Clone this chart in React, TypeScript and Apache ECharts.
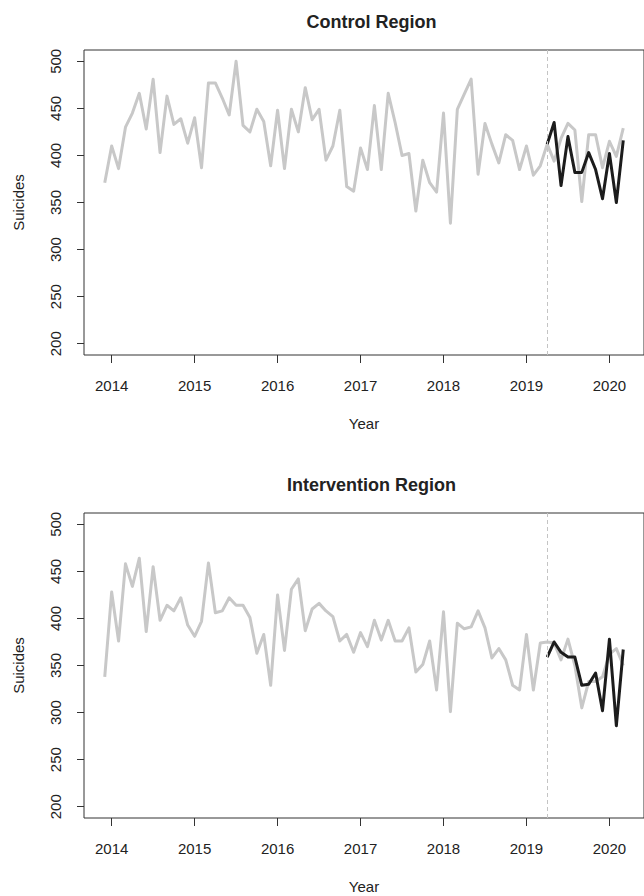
import React, { useEffect, useRef } from "react";
import * as echarts from "echarts";

// Monthly counts, first observation December 2013.
const FIRST_MONTH = 2013 + 11 / 12;
// Index of April 2019, the first post-intervention month.
const POST_START_INDEX = 64;

const yearTicks = [2014, 2015, 2016, 2017, 2018, 2019, 2020];
const suicideTicks = [200, 250, 300, 350, 400, 450, 500];

const panelTitles = ["Control Region", "Intervention Region"];

// Full monthly series (grey)
const controlAll = [
  371, 410, 386, 430, 445, 466, 428, 481, 403, 463, 433, 439, 413, 440, 387, 477,
  477, 461, 443, 500, 432, 425, 449, 436, 389, 448, 386, 449, 425, 472, 438, 449,
  395, 410, 448, 367, 362, 408, 385, 453, 385, 466, 435, 400, 402, 341, 395, 371,
  361, 445, 328, 449, 465, 481, 380, 434, 412, 392, 422, 416, 385, 410, 379, 389,
  412, 394, 418, 434, 427, 351, 422, 422, 387, 415, 399, 429,
];

// Post-intervention observed months (black)
const controlPost = [412, 435, 368, 420, 382, 382, 403, 385, 354, 402, 350, 416];

const interventionAll = [
  338, 428, 376, 458, 434, 464, 386, 455, 398, 414, 408, 422, 393, 381, 397, 459,
  406, 408, 422, 414, 414, 401, 363, 383, 329, 425, 366, 431, 442, 387, 410, 416,
  408, 402, 376, 383, 364, 385, 370, 398, 377, 398, 376, 376, 390, 343, 351, 376,
  324, 407, 301, 395, 389, 391, 408, 390, 358, 368, 356, 329, 324, 383, 324, 374,
  375, 374, 356, 378, 350, 305, 333, 333, 338, 362, 368, 350,
];

const interventionPost = [359, 375, 364, 359, 359, 329, 330, 342, 302, 378, 286, 367];

const FONT = "'Liberation Sans', Arial, Helvetica, sans-serif";
const INK = "#222222";
const GREY_LINE = "#c8c8c8";
const BLACK_LINE = "#1c1c1c";

const toPairs = (values: number[], offset: number) =>
  values.map((v, i) => [FIRST_MONTH + (offset + i) / 12, v]);

const interventionStart = FIRST_MONTH + POST_START_INDEX / 12;

const grids = [
  { left: 84, top: 50, width: 565, height: 305 },
  { left: 84, top: 513, width: 565, height: 305 },
];

function buildOption(): echarts.EChartsOption {
  const panels = [
    { all: controlAll, post: controlPost },
    { all: interventionAll, post: interventionPost },
  ];

  return {
    animation: false,
    backgroundColor: "#ffffff",
    title: panelTitles.map((text, k) => ({
      text,
      left: grids[k].left + grids[k].width / 2,
      top: grids[k].top - 42,
      textAlign: "center",
      textStyle: { fontSize: 18, fontWeight: "bold", color: INK, fontFamily: FONT },
    })),
    grid: grids.map((g) => ({
      ...g,
      show: true,
      borderColor: "#333333",
      borderWidth: 1,
      backgroundColor: "transparent",
    })),
    xAxis: grids.map((_, k) => ({
      type: "value",
      gridIndex: k,
      min: 2013 + 8 / 12,
      max: 2020 + 5 / 12,
      name: "Year",
      nameLocation: "middle",
      nameGap: 61,
      nameTextStyle: { fontSize: 15, color: INK, fontFamily: FONT },
      axisLine: { show: false },
      axisTick: {
        show: true,
        length: 8,
        customValues: yearTicks,
        lineStyle: { color: "#333333", width: 1 },
      },
      axisLabel: {
        show: true,
        customValues: yearTicks,
        margin: 23,
        fontSize: 15,
        color: INK,
        fontFamily: FONT,
        formatter: (v: number) => String(Math.round(v)),
      },
      splitLine: { show: false },
    })),
    yAxis: grids.map((_, k) => ({
      type: "value",
      gridIndex: k,
      min: 188,
      max: 512,
      name: "Suicides",
      nameLocation: "middle",
      nameRotate: 90,
      nameGap: 58,
      nameTextStyle: { fontSize: 15, color: INK, fontFamily: FONT },
      axisLine: { show: false },
      axisTick: {
        show: true,
        length: 7,
        customValues: suicideTicks,
        lineStyle: { color: "#333333", width: 1 },
      },
      axisLabel: {
        show: true,
        customValues: suicideTicks,
        rotate: 90,
        margin: 21,
        fontSize: 15,
        color: INK,
        fontFamily: FONT,
        formatter: (v: number) => String(Math.round(v)),
      },
      splitLine: { show: false },
    })),
    series: panels.flatMap((p, k) => [
      {
        type: "line",
        name: `${panelTitles[k]} series`,
        xAxisIndex: k,
        yAxisIndex: k,
        data: toPairs(p.all, 0),
        showSymbol: false,
        symbol: "none",
        lineStyle: { color: GREY_LINE, width: 3, join: "round" },
        z: 2,
        markLine: {
          silent: true,
          symbol: "none",
          label: { show: false },
          lineStyle: { color: "#c4c4c4", width: 1, type: [4, 3] },
          data: [{ xAxis: interventionStart }],
        },
      },
      {
        type: "line",
        name: `${panelTitles[k]} post`,
        xAxisIndex: k,
        yAxisIndex: k,
        data: toPairs(p.post, POST_START_INDEX),
        showSymbol: false,
        symbol: "none",
        lineStyle: { color: BLACK_LINE, width: 3, join: "round" },
        z: 3,
      },
    ]),
  };
}

export default function App() {
  const ref = useRef<HTMLDivElement>(null);

  useEffect(() => {
    if (!ref.current) return;
    const chart = echarts.init(ref.current, undefined, { renderer: "svg" });
    chart.setOption(buildOption());
    return () => chart.dispose();
  }, []);

  return (
    <div
      ref={ref}
      style={{ position: "fixed", left: 0, top: 0, width: 644, height: 896, background: "#fff" }}
    />
  );
}
